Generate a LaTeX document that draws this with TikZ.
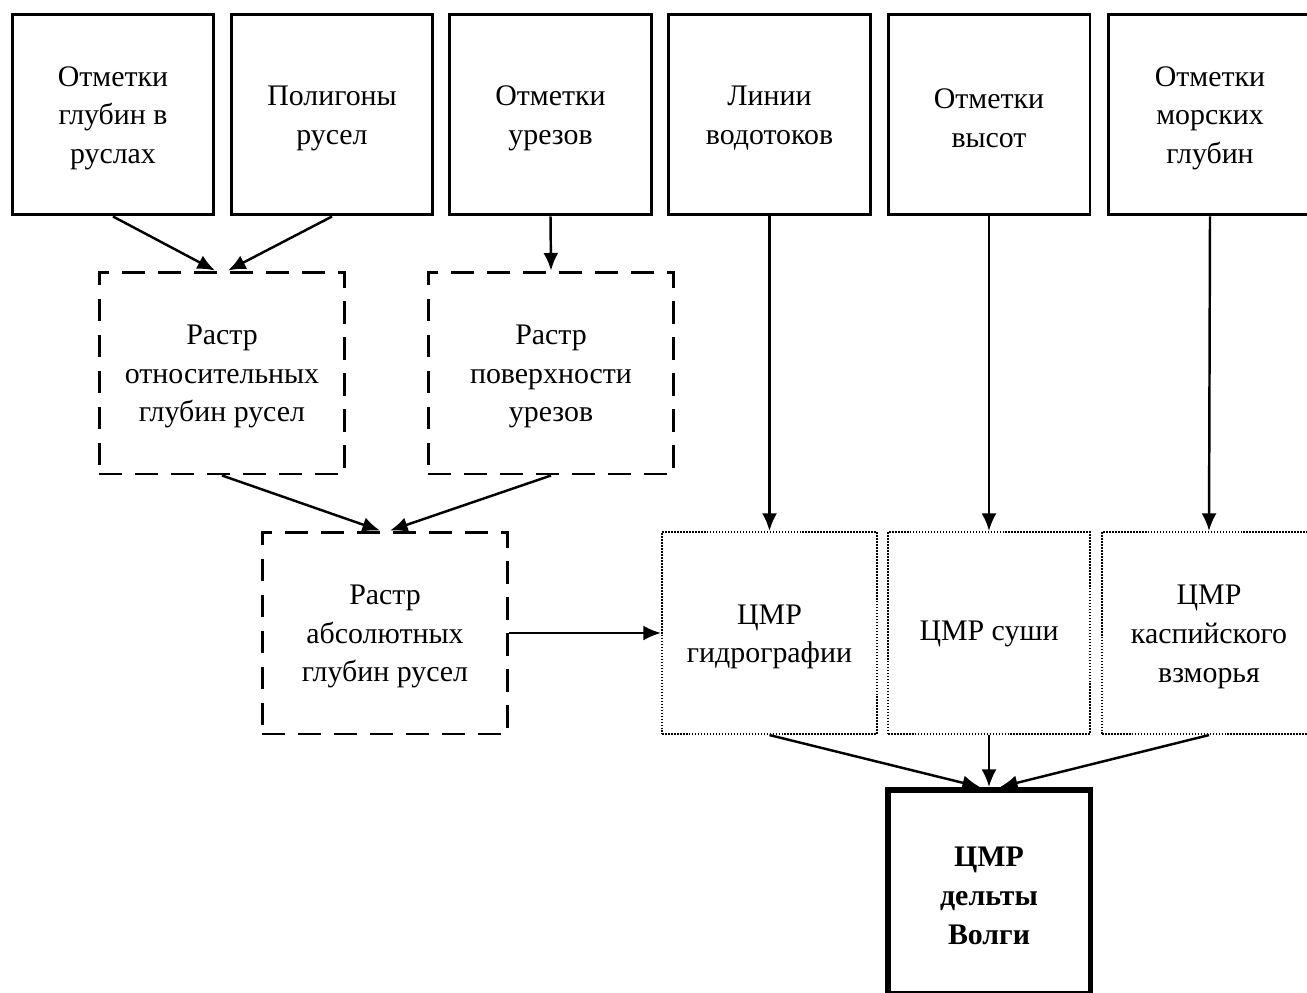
\documentclass[tikz,border=0pt]{standalone}
\usepackage{fontspec}
\setmainfont{Liberation Serif}
\usepackage{tikz}
\usetikzlibrary{arrows,arrows.meta}

\begin{document}
\begin{tikzpicture}[x=0.02cm,y=-0.02cm,>={Latex[length=10pt,width=8.5pt]},
		txt/.style={align=center,inner sep=0pt,font=\fontsize{17}{22}\selectfont},
		srcbox/.style={txt,draw,line width=1.7pt,minimum width=4.04cm,minimum height=4.02cm},
		rastbox/.style={txt,draw,line width=1.7pt,dash pattern=on 13pt off 7.5pt,minimum width=4.92cm,minimum height=4.04cm},
		dembox/.style={txt,draw,line width=1.2pt,dash pattern=on 0.9pt off 0.8pt,minimum height=4.04cm},
		link/.style={->,line width=1.4pt}]
		\useasboundingbox (0,0) rectangle (1307,992);
		% Исходные данные
		\node [srcbox] (depth) at (113,114.5) {\strut Отметки\\глубин в\\руслах};
		\node [srcbox] (poly) at (332,114.5) {\strut Полигоны\\русел};
		\node [srcbox] (edge) at (550.5,114.5) {\strut Отметки\\урезов};
		\node [srcbox] (lines) at (769.5,114.5) {\strut Линии\\водотоков};
		\node [srcbox] (heights) at (989,114.5) {\strut Отметки\\высот};
		\node [srcbox,minimum width=4.08cm] (sea) at (1210,114.5) {\strut Отметки\\морских\\глубин};
		% Растры
		\node [rastbox] (rel) at (222,373) {\strut Растр\\относительных\\глубин русел};
		\node [rastbox] (surf) at (551,373) {\strut Растр\\поверхности\\урезов};
		\node [rastbox] (abs) at (385,633) {\strut Растр\\абсолютных\\глубин русел};
		% ЦМР
		\node [dembox,minimum width=4.3cm] (hydro) at (769.5,633) {\strut ЦМР\\гидрографии};
		\node [dembox,minimum width=4.04cm] (land) at (989,633) {\strut ЦМР суши};
		\node [dembox,minimum width=4.28cm] (caspian) at (1209,633) {\strut ЦМР\\каспийского\\взморья};
		\node [txt,draw,line width=3.4pt,minimum width=4.06cm,minimum height=4.08cm,font=\fontsize{17}{22}\selectfont\bfseries] (delta) at (989,892) {\strut ЦМР\\дельты\\Волги};
		% Связи
		\draw [link] (depth.south) -- ([xshift=-0.14cm]rel.north);
		\draw [link] (poly.south) -- ([xshift=0.12cm]rel.north);
		\draw [link] (edge.south) -- (surf.north);
		\draw [link] (rel.south) -- ([xshift=-0.1cm]abs.north);
		\draw [link] (surf.south) -- ([xshift=0.1cm]abs.north);
		\draw [link] (abs.east) -- (hydro.west);
		\draw [link] (lines.south) -- (hydro.north);
		\draw [link] (heights.south) -- (land.north);
		\draw [link] (sea.south) -- (caspian.north);
		\draw [link] (hydro.south) -- ([xshift=-0.18cm]delta.north);
		\draw [link] (land.south) -- (delta.north);
		\draw [link] (caspian.south) -- ([xshift=0.22cm]delta.north);
	\end{tikzpicture}
\end{document}
